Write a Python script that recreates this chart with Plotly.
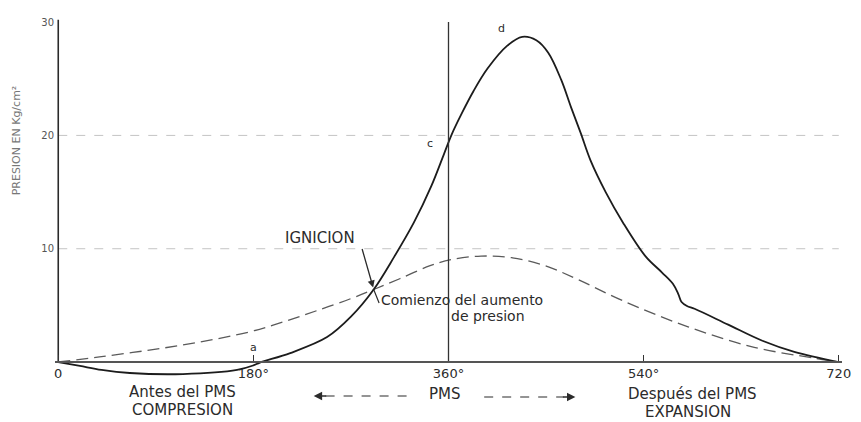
import plotly.graph_objects as go

# Crank angle (degrees) and cylinder pressure (kg/cm²) with combustion
crank_deg_fired = [0, 20, 40, 66, 115, 165, 180, 186, 214, 248, 270, 291, 310, 328, 344,
                   356, 363, 372, 383, 396, 414, 428, 441, 452, 464, 473, 482, 491, 505,
                   521, 542, 557, 567, 572, 575, 580, 587, 618, 649, 679, 720]
pressure_fired = [0, -0.35, -0.7, -0.97, -1.06, -0.7, -0.3, -0.05, 0.79, 2.2, 4.0, 6.4,
                  9.3, 12.3, 15.5, 18.4, 20.1, 21.9, 23.9, 25.9, 27.9, 28.7, 28.4, 27.3,
                  24.9, 22.5, 20.2, 17.8, 15.0, 12.3, 9.3, 7.9, 6.9, 6.0, 5.3, 4.95, 4.7,
                  3.3, 1.9, 0.9, 0]

# Compression/expansion without combustion
crank_deg_motored = [0, 38, 84, 130, 176, 208, 239, 270, 291, 315, 343, 363, 390, 419,
                     449, 479, 521, 581, 642, 697, 720]
pressure_motored = [0, 0.45, 1.05, 1.75, 2.65, 3.55, 4.55, 5.6, 6.4, 7.35, 8.5, 9.05,
                    9.35, 9.2, 8.5, 7.3, 5.4, 3.1, 1.3, 0.35, 0]

x_tick_vals = [0, 180, 360, 540, 720]
x_tick_text = ["0", "180°", "360°", "540°", "720"]
y_tick_vals = [10, 20, 30]
y_tick_text = ["10", "20", "30"]
grid_levels = [10, 20]

ignition_deg, ignition_p = 291, 6.4
tdc_deg = 360

X_RANGE = [-3, 723]
Y_RANGE = [-2.47, 31.07]
M_L, M_R, M_T, M_B = 55, 12, 10, 32
W, H = 861, 422
PW, PH = W - M_L - M_R, H - M_T - M_B

FONT = "DejaVu Sans"
INK = "#2b2b2b"


def px_x(px):
    return (px - M_L) / PW


def px_y(py):
    return (H - M_B - py) / PH


def label(text, px, py, size=14, color=INK, **kw):
    return dict(text=text, x=px_x(px), y=px_y(py), xref="paper", yref="paper",
                xanchor=kw.pop("xanchor", "center"), yanchor="middle",
                showarrow=False, font=dict(size=size, color=color, family=FONT), **kw)


fig = go.Figure()

fig.add_trace(go.Scatter(
    x=crank_deg_motored, y=pressure_motored, mode="lines",
    line=dict(color="#5a5a5a", width=1.3, dash="12px,6px", shape="spline", smoothing=1.0),
    hoverinfo="skip"))
fig.add_trace(go.Scatter(
    x=crank_deg_fired, y=pressure_fired, mode="lines",
    line=dict(color="#1c1c1c", width=1.8, shape="spline", smoothing=1.0),
    hoverinfo="skip"))

# pressure axis and TDC line
fig.add_trace(go.Scatter(x=[0, 0], y=[0, 30.2], mode="lines",
                         line=dict(color="#2a2a2a", width=1.6), hoverinfo="skip"))
fig.add_trace(go.Scatter(x=[tdc_deg, tdc_deg], y=[0, 30], mode="lines",
                         line=dict(color="#333333", width=1.3), hoverinfo="skip"))

annotations = [
    label("IGNICION", 322, 238, size=15),
    dict(text="", x=ignition_deg, y=ignition_p, xref="x", yref="y",
         ax=-12, ay=-42, showarrow=True, arrowhead=2, arrowsize=1.1, arrowwidth=1.3,
         arrowcolor=INK, standoff=2),
    dict(text="", x=ignition_deg, y=ignition_p, xref="x", yref="y",
         ax=6, ay=15, showarrow=True, arrowhead=0, arrowwidth=1.2, arrowcolor=INK),
    label("Comienzo del aumento", 382, 300, xanchor="left"),
    label("de presion", 452, 316, xanchor="left"),
    dict(text="a", x=180, y=1.3, xref="x", yref="y", showarrow=False,
         font=dict(size=11, color=INK, family=FONT)),
    dict(text="c", x=343, y=19.3, xref="x", yref="y", showarrow=False,
         font=dict(size=11, color=INK, family=FONT)),
    dict(text="d", x=409, y=29.4, xref="x", yref="y", showarrow=False,
         font=dict(size=11, color=INK, family=FONT)),
    label("Antes del PMS", 184, 392, size=15),
    label("COMPRESION", 184, 410, size=15),
    label("PMS", 448, 394, size=15),
    label("Después del PMS", 698, 394, size=15),
    label("EXPANSION", 694, 412, size=15),
    label("PRESION EN Kg/cm²", 17, 140, size=11, color="#777777", textangle=-90),
    # arrowheads either side of PMS
    dict(text="", x=px_x(316), y=px_y(396), xref="paper", yref="paper",
         ax=14, ay=0, showarrow=True, arrowhead=2, arrowsize=1.2, arrowwidth=1.4,
         arrowcolor=INK),
    dict(text="", x=px_x(580), y=px_y(397), xref="paper", yref="paper",
         ax=-14, ay=0, showarrow=True, arrowhead=2, arrowsize=1.2, arrowwidth=1.4,
         arrowcolor=INK),
]

shapes = [
    dict(type="line", xref="paper", yref="paper", x0=px_x(328), x1=px_x(414),
         y0=px_y(396), y1=px_y(396), line=dict(color=INK, width=1.2, dash="dash")),
    dict(type="line", xref="paper", yref="paper", x0=px_x(488), x1=px_x(568),
         y0=px_y(397), y1=px_y(397), line=dict(color=INK, width=1.2, dash="dash")),
]
for lvl in grid_levels:
    shapes.append(dict(type="line", xref="x", yref="y", x0=0, x1=720, y0=lvl, y1=lvl,
                       layer="below", line=dict(color="#c4c4c4", width=1, dash="dash")))

fig.update_layout(
    width=W, height=H,
    margin=dict(l=M_L, r=M_R, t=M_T, b=M_B),
    paper_bgcolor="white", plot_bgcolor="white",
    showlegend=False,
    annotations=annotations,
    shapes=shapes,
    font=dict(family=FONT, color=INK),
    xaxis=dict(
        range=X_RANGE, anchor="free",
        position=(0 - Y_RANGE[0]) / (Y_RANGE[1] - Y_RANGE[0]),
        tickvals=x_tick_vals, ticktext=x_tick_text,
        ticks="inside", ticklen=6, tickwidth=1.3, tickcolor="#333333",
        showline=True, linecolor="#555555", linewidth=1.5,
        showgrid=False, zeroline=False,
        tickfont=dict(size=13, color=INK, family=FONT),
    ),
    yaxis=dict(
        range=Y_RANGE,
        tickvals=y_tick_vals, ticktext=y_tick_text,
        showline=False, zeroline=False, ticks="", showgrid=False,
        tickfont=dict(size=10, color="#555555", family=FONT),
    ),
)

fig.write_html("out.html")
